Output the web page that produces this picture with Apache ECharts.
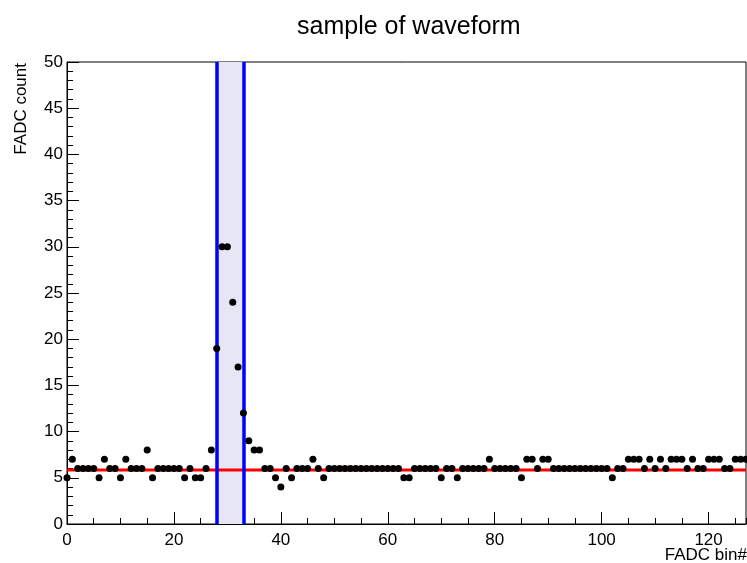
<!DOCTYPE html>
<html>
<head>
<meta charset="utf-8">
<script src="https://cdn.jsdelivr.net/npm/echarts@6/dist/echarts.min.js"></script>
<style>
html,body{margin:0;padding:0;background:#fff;}
#chart{width:747px;height:563px;}
</style>
</head>
<body>
<div id="chart"></div>
<script>
// FADC bin values (bins 0..127)
const binValues = [
  5,7,6,6,6,6,5,7,6,6, 5,7,6,6,6,8,5,6,6,6,
  6,6,5,6,5,5,6,8,19,30, 30,24,17,12,9,8,8,6,6,5,
  4,6,5,6,6,6,7,6,5,6, 6,6,6,6,6,6,6,6,6,6,
  6,6,6,5,5,6,6,6,6,6, 5,6,6,5,6,6,6,6,6,7,
  6,6,6,6,6,5,7,7,6,7, 7,6,6,6,6,6,6,6,6,6,
  6,6,5,6,6,7,7,7,6,7, 6,7,6,7,7,7,6,7,6,6,
  7,7,7,6,6,7,7,7
];
const windowStart = 28;
const windowEnd = 33;
const baseline = 5.85;
const xRange = [0, 127];
const yRange = [0, 50];

const points = binValues.map((v, i) => [i, v]);
const font = 'Liberation Sans, Arial, Helvetica, sans-serif';

const chart = echarts.init(document.getElementById('chart'), null, {renderer: 'canvas'});
chart.setOption({
  animation: false,
  backgroundColor: '#ffffff',
  title: {
    text: 'sample of waveform',
    left: 292,
    top: 10,
    textStyle: {fontFamily: font, fontSize: 25, fontWeight: 'normal', color: '#000'}
  },
  grid: {
    left: 67, right: 1, top: 62, bottom: 39,
    containLabel: false,
    outerBoundsMode: 'none',
    show: true, borderColor: '#000', borderWidth: 1, backgroundColor: 'transparent'
  },
  graphic: [{
    type: 'text',
    x: 21, y: 63,
    rotation: Math.PI / 2,
    style: {
      text: 'FADC count',
      fontFamily: font, fontSize: 17, fill: '#000',
      textAlign: 'right', textVerticalAlign: 'middle'
    }
  }, {
    type: 'text',
    x: 747, y: 547,
    style: {
      text: 'FADC bin#',
      fontFamily: font, fontSize: 17, fill: '#000',
      textAlign: 'right', textVerticalAlign: 'top'
    }
  }],
  xAxis: [{
    type: 'value',
    min: xRange[0], max: xRange[1], interval: 20,
    axisLine: {show: true, onZero: false, lineStyle: {color: '#000', width: 1}},
    axisTick: {show: true, inside: true, length: 12, lineStyle: {color: '#000', width: 1}},
    minorTick: {show: false},
    axisLabel: {fontFamily: font, fontSize: 17, color: '#000', margin: 8, showMaxLabel: false, showMinLabel: true},
    splitLine: {show: false}
  }, {
    type: 'value',
    position: 'bottom',
    min: xRange[0], max: xRange[1], interval: 5,
    axisLine: {show: false, onZero: false},
    axisTick: {show: true, inside: true, length: 6, lineStyle: {color: '#000', width: 1}},
    axisLabel: {show: false},
    splitLine: {show: false}
  }],
  yAxis: {
    type: 'value',
    min: yRange[0], max: yRange[1], interval: 5,
    axisLine: {show: true, onZero: false, lineStyle: {color: '#000', width: 1}},
    axisTick: {show: true, inside: true, length: 12, lineStyle: {color: '#000', width: 1}},
    minorTick: {show: true, splitNumber: 5, length: 6, lineStyle: {color: '#000', width: 1}},
    axisLabel: {fontFamily: font, fontSize: 17, color: '#000', margin: 4, showMaxLabel: true, showMinLabel: true},
    splitLine: {show: false}
  },
  series: [{
    type: 'line',
    name: 'baseline',
    xAxisIndex: 0,
    data: [[xRange[0], baseline], [xRange[1], baseline]],
    symbol: 'none',
    lineStyle: {color: '#ff0000', width: 3},
    z: 2,
    silent: true,
    markArea: {
      silent: true,
      itemStyle: {color: '#e6e6f5', opacity: 1},
      data: [[{xAxis: windowStart}, {xAxis: windowEnd}]]
    },
    markLine: {
      silent: true,
      symbol: ['none', 'none'],
      label: {show: false},
      lineStyle: {color: '#0000ff', width: 3.5, type: 'solid'},
      data: [{xAxis: windowStart}, {xAxis: windowEnd}]
    }
  }, {
    type: 'scatter',
    name: 'waveform',
    xAxisIndex: 0,
    data: points,
    symbol: 'circle',
    symbolSize: 7,
    itemStyle: {color: '#000', opacity: 1},
    z: 5
  }]
});
</script>
</body>
</html>
